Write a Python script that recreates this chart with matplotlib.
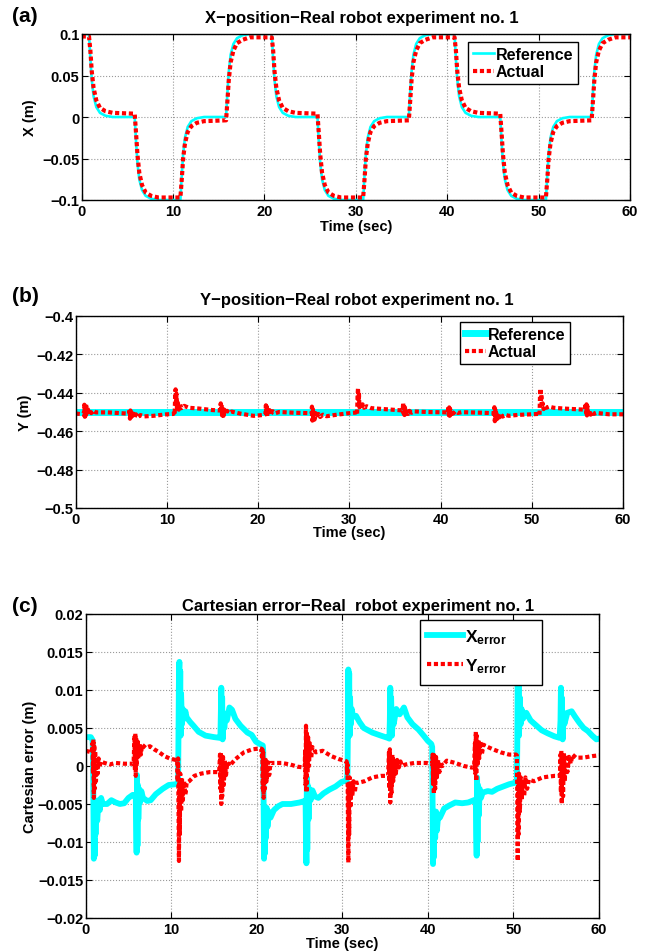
import matplotlib
matplotlib.use("Agg")
import matplotlib.pyplot as plt
from matplotlib.patches import Rectangle

plt.rcParams["font.family"] = ["Liberation Sans", "DejaVu Sans"]
plt.rcParams["font.weight"] = "bold"
plt.rcParams["axes.labelweight"] = "bold"
plt.rcParams["mathtext.fontset"] = "custom"
plt.rcParams["mathtext.rm"] = "Liberation Sans:bold"
plt.rcParams["mathtext.bf"] = "Liberation Sans:bold"
plt.rcParams["mathtext.it"] = "Liberation Sans:bold"

W, H = 651, 953
CYAN = "#00ffff"
RED = "#ff0000"

# ---------------- shared axis data ----------------
x_ticks = [0, 10, 20, 30, 40, 50, 60]
x_tick_labels = ["0", "10", "20", "30", "40", "50", "60"]

# ---------------- (a) X position ----------------
a_yticks = [-0.1, -0.05, 0, 0.05, 0.1]
a_ylabels = ["\u22120.1", "\u22120.05", "0", "0.05", "0.1"]

time_a = [
    0.0,
    0.8, 0.95, 1.1, 1.3, 1.6, 2.0, 2.6, 3.4,
    5.8, 5.95, 6.1, 6.3, 6.6, 7.0, 7.6, 8.4,
    10.8, 10.95, 11.1, 11.3, 11.6, 12.0, 12.6, 13.4,
    15.8, 15.95, 16.1, 16.3, 16.6, 17.0, 17.6, 18.4,
    20.8, 20.95, 21.1, 21.3, 21.6, 22.0, 22.6, 23.4,
    25.8, 25.95, 26.1, 26.3, 26.6, 27.0, 27.6, 28.4,
    30.8, 30.95, 31.1, 31.3, 31.6, 32.0, 32.6, 33.4,
    35.8, 35.95, 36.1, 36.3, 36.6, 37.0, 37.6, 38.4,
    40.8, 40.95, 41.1, 41.3, 41.6, 42.0, 42.6, 43.4,
    45.8, 45.95, 46.1, 46.3, 46.6, 47.0, 47.6, 48.4,
    50.8, 50.95, 51.1, 51.3, 51.6, 52.0, 52.6, 53.4,
    55.8, 55.95, 56.1, 56.3, 56.6, 57.0, 57.6, 58.4,
    60.0,
]
x_reference = [
    0.1,
    0.1, 0.07, 0.045, 0.025, 0.012, 0.005, 0.0015, 0.0,
    0.0, -0.03, -0.055, -0.075, -0.088, -0.095, -0.0985, -0.1,
    -0.1, -0.07, -0.045, -0.025, -0.012, -0.005, -0.0015, 0.0,
    0.0, 0.03, 0.055, 0.075, 0.088, 0.095, 0.0985, 0.1,
    0.1, 0.07, 0.045, 0.025, 0.012, 0.005, 0.0015, 0.0,
    0.0, -0.03, -0.055, -0.075, -0.088, -0.095, -0.0985, -0.1,
    -0.1, -0.07, -0.045, -0.025, -0.012, -0.005, -0.0015, 0.0,
    0.0, 0.03, 0.055, 0.075, 0.088, 0.095, 0.0985, 0.1,
    0.1, 0.07, 0.045, 0.025, 0.012, 0.005, 0.0015, 0.0,
    0.0, -0.03, -0.055, -0.075, -0.088, -0.095, -0.0985, -0.1,
    -0.1, -0.07, -0.045, -0.025, -0.012, -0.005, -0.0015, 0.0,
    0.0, 0.03, 0.055, 0.075, 0.088, 0.095, 0.0985, 0.1,
    0.1,
]
x_actual = [
    0.097,
    0.097, 0.08, 0.055, 0.035, 0.02, 0.011, 0.007, 0.005,
    0.004, -0.02, -0.045, -0.067, -0.082, -0.091, -0.095, -0.097,
    -0.097, -0.075, -0.05, -0.032, -0.018, -0.011, -0.007, -0.005,
    -0.004, 0.02, 0.045, 0.066, 0.08, 0.089, 0.093, 0.096,
    0.096, 0.08, 0.055, 0.035, 0.02, 0.011, 0.007, 0.005,
    0.004, -0.02, -0.045, -0.067, -0.082, -0.091, -0.095, -0.097,
    -0.097, -0.075, -0.05, -0.032, -0.018, -0.011, -0.007, -0.005,
    -0.004, 0.02, 0.045, 0.066, 0.08, 0.089, 0.093, 0.096,
    0.096, 0.08, 0.055, 0.035, 0.02, 0.011, 0.007, 0.005,
    0.004, -0.02, -0.045, -0.067, -0.082, -0.091, -0.095, -0.097,
    -0.097, -0.075, -0.05, -0.032, -0.018, -0.011, -0.007, -0.005,
    -0.004, 0.02, 0.045, 0.066, 0.08, 0.089, 0.093, 0.096,
    0.096,
]

# ---------------- (b) Y position ----------------
b_yticks = [-0.5, -0.48, -0.46, -0.44, -0.42, -0.4]
b_ylabels = ["\u22120.5", "\u22120.48", "\u22120.46", "\u22120.44", "\u22120.42", "\u22120.4"]

time_b_ref = [0.0, 60.0]
y_reference = [-0.45, -0.45]

time_b = [
    0.0, 0.8,
    0.9, 0.95, 1.0, 1.05, 1.1, 1.15, 1.2, 1.3, 1.4, 1.5, 1.7, 1.9, 2.2,
    3.5, 5.6,
    5.85, 5.9, 5.95, 6.0, 6.05, 6.1, 6.2, 6.3, 6.45, 6.6, 6.8, 7.1, 7.5,
    8.5, 10.0, 10.7,
    10.8, 10.85, 10.9, 10.95, 11.0, 11.05, 11.1, 11.2, 11.3, 11.45, 11.6, 11.9, 12.4,
    13.5, 15.0, 15.7,
    15.85, 15.9, 15.95, 16.0, 16.05, 16.1, 16.2, 16.3, 16.45, 16.6, 16.8, 17.1,
    18.0, 19.5, 20.7,
    20.8, 20.85, 20.9, 20.95, 21.0, 21.05, 21.15, 21.25, 21.4, 21.6, 21.9, 22.3,
    24.0, 25.7,
    25.85, 25.9, 25.95, 26.0, 26.05, 26.1, 26.2, 26.3, 26.45, 26.6, 26.8, 27.1, 27.5,
    28.5, 30.0, 30.7,
    30.8, 30.85, 30.9, 30.95, 31.0, 31.05, 31.1, 31.2, 31.3, 31.45, 31.6, 31.9, 32.4,
    33.5, 35.0, 35.7,
    35.85, 35.9, 35.95, 36.0, 36.05, 36.1, 36.2, 36.3, 36.45, 36.6, 36.8, 37.1,
    38.5, 40.7,
    40.8, 40.85, 40.9, 40.95, 41.0, 41.05, 41.15, 41.25, 41.4, 41.6, 41.9, 42.3,
    44.0, 45.7,
    45.85, 45.9, 45.95, 46.0, 46.05, 46.1, 46.2, 46.3, 46.45, 46.6, 46.8, 47.1, 47.5,
    48.5, 50.0, 50.7,
    50.8, 50.85, 50.9, 50.95, 51.0, 51.05, 51.1, 51.2, 51.3, 51.45, 51.6, 51.9, 52.4,
    53.5, 55.0, 55.7,
    55.85, 55.9, 55.95, 56.0, 56.05, 56.1, 56.2, 56.3, 56.45, 56.6, 56.8, 57.1,
    58.5, 60.0,
]
y_actual = [
    -0.4508, -0.4512,
    -0.4505, -0.4462, -0.4525, -0.4472, -0.4518, -0.4458, -0.4508, -0.4478, -0.4512, -0.4485, -0.4506, -0.4493, -0.4502,
    -0.4502, -0.4508,
    -0.4510, -0.4485, -0.4535, -0.4492, -0.4540, -0.4502, -0.4532, -0.4508, -0.4528, -0.4512, -0.4526, -0.4516, -0.4523,
    -0.4520, -0.4512, -0.4510,
    -0.4505, -0.4515, -0.4420, -0.4382, -0.4448, -0.4405, -0.4478, -0.4452, -0.4488, -0.4462, -0.4480, -0.4468, -0.4478,
    -0.4482, -0.4490, -0.4492,
    -0.4490, -0.4455, -0.4505, -0.4462, -0.4518, -0.4472, -0.4520, -0.4488, -0.4512, -0.4494, -0.4505, -0.4498,
    -0.4508, -0.4520, -0.4515,
    -0.4512, -0.4465, -0.4518, -0.4472, -0.4522, -0.4482, -0.4515, -0.4490, -0.4510, -0.4496, -0.4506, -0.4500,
    -0.4504, -0.4506,
    -0.4510, -0.4472, -0.4545, -0.4485, -0.4552, -0.4502, -0.4538, -0.4506, -0.4530, -0.4510, -0.4526, -0.4514, -0.4522,
    -0.4515, -0.4506, -0.4503,
    -0.4500, -0.4512, -0.4415, -0.4375, -0.4445, -0.4400, -0.4475, -0.4450, -0.4485, -0.4460, -0.4478, -0.4470, -0.4480,
    -0.4484, -0.4490, -0.4492,
    -0.4492, -0.4452, -0.4508, -0.4460, -0.4516, -0.4470, -0.4518, -0.4486, -0.4510, -0.4494, -0.4504, -0.4497,
    -0.4500, -0.4502,
    -0.4504, -0.4470, -0.4516, -0.4476, -0.4520, -0.4485, -0.4512, -0.4492, -0.4508, -0.4497, -0.4505, -0.4501,
    -0.4503, -0.4506,
    -0.4510, -0.4475, -0.4548, -0.4488, -0.4552, -0.4505, -0.4536, -0.4508, -0.4528, -0.4512, -0.4524, -0.4515, -0.4520,
    -0.4515, -0.4512, -0.4510,
    -0.4508, -0.4515, -0.4420, -0.4378, -0.4448, -0.4408, -0.4476, -0.4455, -0.4485, -0.4465, -0.4478, -0.4472, -0.4478,
    -0.4482, -0.4486, -0.4488,
    -0.4488, -0.4455, -0.4505, -0.4460, -0.4518, -0.4470, -0.4520, -0.4490, -0.4514, -0.4500, -0.4510, -0.4505,
    -0.4512, -0.4512,
]

# ---------------- (c) Cartesian error ----------------
c_yticks = [-0.02, -0.015, -0.01, -0.005, 0, 0.005, 0.01, 0.015, 0.02]
c_ylabels = ["\u22120.02", "\u22120.015", "\u22120.01", "\u22120.005", "0",
             "0.005", "0.01", "0.015", "0.02"]

time_c_x = [
    0.0, 0.6, 0.8,
    0.85, 0.9, 0.95, 1.0, 1.05, 1.1, 1.15, 1.25, 1.35, 1.5, 1.65, 1.8, 2.0,
    2.5, 3.0, 3.5, 4.0, 4.5, 5.0, 5.5, 5.8,
    5.85, 5.9, 5.95, 6.0, 6.05, 6.1, 6.15, 6.25, 6.35, 6.5, 6.7,
    7.2, 7.6, 8.2, 9.0, 9.7, 10.5, 10.8,
    10.85, 10.9, 10.95, 11.0, 11.05, 11.1, 11.15, 11.25, 11.35, 11.5, 11.65, 11.8,
    12.2, 12.6, 13.2, 14.0, 15.0, 15.7,
    15.75, 15.8, 15.85, 15.9, 15.95, 16.0, 16.1, 16.2, 16.3,
    16.5, 16.8, 17.1, 17.5, 18.1, 18.9, 19.4, 19.9, 20.5, 20.7,
    20.75, 20.8, 20.85, 20.9, 20.95, 21.0, 21.05, 21.15, 21.25, 21.4, 21.6,
    22.0, 22.5, 23.0, 24.0, 25.0, 25.6,
    25.7, 25.75, 25.8, 25.85, 25.9, 25.95, 26.05, 26.15, 26.3, 26.5,
    26.8, 27.2, 27.8, 28.5, 29.2, 29.9, 30.5,
    30.6, 30.65, 30.7, 30.75, 30.8, 30.85, 30.9, 31.0, 31.1, 31.25,
    31.6, 32.0, 32.5, 33.5, 34.5, 35.3, 35.5,
    35.55, 35.6, 35.65, 35.7, 35.8, 35.9, 36.0,
    36.3, 36.7, 37.2, 37.6, 38.2, 38.9, 39.5, 40.0, 40.4,
    40.5, 40.55, 40.6, 40.65, 40.7, 40.75, 40.85, 40.95, 41.05, 41.2,
    41.4, 41.9, 42.5, 43.2, 44.0, 44.7, 45.4,
    45.6, 45.65, 45.7, 45.75, 45.8, 45.85, 45.95, 46.05, 46.2, 46.4,
    47.0, 47.5, 48.1, 48.8, 49.5, 50.2, 50.4,
    50.45, 50.5, 50.55, 50.6, 50.65, 50.75, 50.85, 50.95, 51.1,
    51.5, 52.0, 52.5, 53.3, 54.0, 54.8, 55.4,
    55.5, 55.55, 55.6, 55.65, 55.75, 55.85, 55.95,
    56.3, 56.8, 57.2, 57.7, 58.2, 58.7, 59.2, 59.7, 60.0,
]
x_error = [
    0.0038, 0.0038, 0.0034,
    0.0020, -0.0060, -0.0122, -0.0095, -0.0118, -0.0070, -0.0090, -0.0055, -0.0072, -0.0045, -0.0058, -0.0042, -0.0050,
    -0.0050, -0.0045, -0.0048, -0.0050, -0.0049, -0.0042, -0.0038, -0.0040,
    -0.0038, -0.0080, -0.0114, -0.0012, -0.0105, -0.0025, -0.0070, -0.0030, -0.0048, -0.0033, -0.0042,
    -0.0046, -0.0045, -0.0037, -0.0030, -0.0025, -0.0024, -0.0024,
    0.0040, 0.0120, 0.0137, 0.0060, 0.0125, 0.0040, 0.0095, 0.0055, 0.0075, 0.0062, 0.0072, 0.0064,
    0.0058, 0.0053, 0.0045, 0.0040, 0.0038, 0.0037,
    0.0040, 0.0075, 0.0103, 0.0040, 0.0090, 0.0035, 0.0070, 0.0050, 0.0062,
    0.0060, 0.0077, 0.0074, 0.0062, 0.0053, 0.0044, 0.0041, 0.0032, 0.0028, 0.0027,
    0.0020, -0.0060, -0.0122, -0.0080, -0.0115, -0.0060, -0.0095, -0.0055, -0.0080, -0.0060, -0.0068,
    -0.0058, -0.0053, -0.0050, -0.0050, -0.0048, -0.0046,
    -0.0045, -0.0095, -0.0128, -0.0015, -0.0110, -0.0025, -0.0070, -0.0030, -0.0045, -0.0032,
    -0.0040, -0.0042, -0.0036, -0.0031, -0.0027, -0.0021, -0.0019,
    -0.0010, 0.0050, 0.0127, 0.0070, 0.0122, 0.0040, 0.0090, 0.0055, 0.0075, 0.0065,
    0.0066, 0.0058, 0.0050, 0.0044, 0.0040, 0.0037, 0.0036,
    0.0060, 0.0103, 0.0045, 0.0090, 0.0040, 0.0070, 0.0055,
    0.0075, 0.0068, 0.0077, 0.0064, 0.0055, 0.0048, 0.0040, 0.0033, 0.0029,
    0.0025, -0.0050, -0.0129, -0.0080, -0.0120, -0.0060, -0.0095, -0.0060, -0.0085, -0.0065,
    -0.0068, -0.0056, -0.0052, -0.0048, -0.0049, -0.0048, -0.0045,
    -0.0044, -0.0090, -0.0118, -0.0015, -0.0100, -0.0025, -0.0065, -0.0030, -0.0042, -0.0035,
    -0.0033, -0.0034, -0.0030, -0.0027, -0.0024, -0.0022, -0.0021,
    0.0030, 0.0125, 0.0065, 0.0118, 0.0040, 0.0090, 0.0055, 0.0075, 0.0062,
    0.0070, 0.0060, 0.0055, 0.0047, 0.0043, 0.0039, 0.0037,
    0.0060, 0.0103, 0.0040, 0.0090, 0.0035, 0.0070, 0.0055,
    0.0070, 0.0072, 0.0065, 0.0057, 0.0050, 0.0046, 0.0040, 0.0035, 0.0036,
]

time_c_y = [
    0.0, 0.7,
    0.8, 0.85, 0.9, 0.95, 1.0, 1.05, 1.1, 1.2, 1.3, 1.4, 1.5, 1.6, 1.75,
    2.2, 2.8, 3.5, 4.5, 5.4,
    5.6, 5.7, 5.75, 5.8, 5.85, 5.9, 5.95, 6.05, 6.15, 6.3, 6.45, 6.6,
    7.0, 7.5, 8.0, 8.6, 9.2, 9.8, 10.5,
    10.7, 10.75, 10.8, 10.85, 10.9, 10.95, 11.0, 11.05, 11.15, 11.25, 11.35, 11.5, 11.65, 11.8,
    12.1, 12.7, 13.5, 14.5, 15.4,
    15.6, 15.7, 15.75, 15.8, 15.85, 15.9, 15.95, 16.05, 16.15, 16.25, 16.4, 16.55,
    16.8, 17.5, 18.5, 19.5, 20.3,
    20.5, 20.6, 20.65, 20.7, 20.75, 20.8, 20.85, 20.95, 21.05, 21.15, 21.3, 21.45, 21.6,
    21.9, 22.9, 23.9, 24.8, 25.5,
    25.6, 25.65, 25.7, 25.75, 25.8, 25.85, 25.9, 26.0, 26.1, 26.2, 26.35, 26.5,
    26.9, 27.7, 28.7, 29.6, 30.3,
    30.5, 30.55, 30.6, 30.65, 30.7, 30.75, 30.8, 30.85, 30.95, 31.05, 31.15, 31.3, 31.45, 31.6,
    31.9, 32.6, 33.5, 34.5, 35.2,
    35.35, 35.45, 35.5, 35.55, 35.6, 35.65, 35.75, 35.85, 35.95, 36.1, 36.25, 36.4, 36.6, 36.8, 37.0,
    37.4, 38.4, 39.8, 40.4,
    40.5, 40.55, 40.6, 40.65, 40.7, 40.75, 40.85, 40.95, 41.05, 41.2, 41.35, 41.5, 41.7,
    42.2, 43.2, 44.2, 45.1,
    45.4, 45.5, 45.55, 45.6, 45.65, 45.7, 45.8, 45.9, 46.0, 46.15, 46.3, 46.5,
    46.8, 47.6, 48.5, 49.5, 50.3,
    50.4, 50.45, 50.5, 50.55, 50.6, 50.65, 50.75, 50.85, 50.95, 51.1, 51.25, 51.4, 51.6, 51.8,
    52.4, 53.4, 54.8, 55.4,
    55.45, 55.5, 55.55, 55.6, 55.65, 55.7, 55.8, 55.9, 56.0, 56.15, 56.3, 56.5, 56.7, 56.9,
    57.3, 58.2, 59.2, 60.0,
]
y_error = [
    0.0020, 0.0018,
    0.0030, -0.0010, 0.0035, -0.0042, 0.0028, -0.0030, 0.0020, -0.0020, 0.0012, -0.0010, 0.0010, -0.0002, 0.0006,
    0.0004, 0.0002, 0.0004, 0.0003, 0.0003,
    0.0003, 0.0040, -0.0005, 0.0043, -0.0013, 0.0038, 0.0000, 0.0035, 0.0010, 0.0030, 0.0015, 0.0028,
    0.0024, 0.0026, 0.0022, 0.0018, 0.0013, 0.0010, 0.0008,
    0.0008, -0.0020, 0.0010, -0.0060, -0.0125, -0.0020, -0.0090, -0.0010, -0.0060, -0.0015, -0.0045, -0.0020, -0.0038, -0.0022,
    -0.0020, -0.0013, -0.0010, -0.0008, -0.0008,
    -0.0008, 0.0015, -0.0030, 0.0018, -0.0050, 0.0010, -0.0040, 0.0012, -0.0025, 0.0008, -0.0012, 0.0005,
    0.0000, 0.0009, 0.0018, 0.0022, 0.0023,
    0.0023, 0.0012, 0.0022, -0.0030, 0.0018, -0.0042, 0.0010, -0.0030, 0.0008, -0.0020, 0.0005, -0.0012, 0.0004,
    0.0004, 0.0004, 0.0002, -0.0001, -0.0002,
    -0.0002, 0.0020, -0.0025, 0.0053, -0.0035, 0.0045, -0.0010, 0.0038, 0.0000, 0.0030, 0.0010, 0.0025,
    0.0018, 0.0020, 0.0013, 0.0009, 0.0007,
    0.0006, -0.0010, 0.0002, -0.0070, -0.0127, -0.0025, -0.0090, -0.0015, -0.0055, -0.0020, -0.0040, -0.0020, -0.0035, -0.0022,
    -0.0022, -0.0020, -0.0015, -0.0013, -0.0013,
    -0.0013, 0.0018, -0.0030, 0.0022, -0.0048, 0.0012, -0.0035, 0.0015, -0.0020, 0.0010, -0.0010, 0.0008, -0.0002, 0.0006, 0.0000,
    0.0002, 0.0004, 0.0004, 0.0003,
    0.0003, 0.0015, -0.0025, 0.0018, -0.0037, 0.0010, -0.0030, 0.0012, -0.0015, 0.0008, -0.0008, 0.0005, 0.0000,
    0.0007, 0.0004, 0.0000, -0.0002,
    -0.0002, 0.0030, -0.0010, 0.0045, -0.0020, 0.0040, 0.0000, 0.0035, 0.0010, 0.0032, 0.0015, 0.0028,
    0.0026, 0.0022, 0.0018, 0.0015, 0.0015,
    0.0014, -0.0040, -0.0125, -0.0020, -0.0090, -0.0010, -0.0060, -0.0015, -0.0045, -0.0020, -0.0040, -0.0015, -0.0030, -0.0018,
    -0.0020, -0.0015, -0.0013, -0.0013,
    -0.0010, 0.0015, -0.0035, 0.0020, -0.0050, 0.0012, -0.0040, 0.0018, -0.0020, 0.0015, -0.0008, 0.0012, 0.0003, 0.0015,
    0.0011, 0.0011, 0.0013, 0.0014,
]

DOTS = (0, (1.0, 0.65))


def add_axes_px(fig, left, top, right, bottom):
    return fig.add_axes([left / W, 1 - bottom / H, (right - left) / W, (bottom - top) / H])


def fig_xy(x, y):
    return x / W, 1 - y / H


def style_axes(ax, box, ylim, yticks, ylabels, ylabel, xlabel_y, ylabel_x):
    left, top, right, bottom = box
    ax.set_xlim(0, 60)
    ax.set_ylim(*ylim)
    ax.set_xticks(x_ticks)
    ax.set_xticklabels(x_tick_labels)
    ax.set_yticks(yticks)
    ax.set_yticklabels(ylabels)
    ax.tick_params(direction="in", top=True, right=True, length=4, width=0.8, labelsize=10.5)
    ax.tick_params(axis="x", pad=3)
    ax.tick_params(axis="y", pad=1.7)
    ax.grid(True, linestyle=":", color="#999999", linewidth=0.8)
    for sp in ax.spines.values():
        sp.set_linewidth(1.0)
    ax.set_xlabel("Time (sec)", fontsize=10.5, va="center")
    ax.set_ylabel(ylabel, fontsize=10.5, va="center", ha="center")
    ax.xaxis.set_label_coords(0.5, (bottom - xlabel_y) / (bottom - top))
    ax.yaxis.set_label_coords((ylabel_x - left) / (right - left), 0.5)


def legend_box(ax, anchor, fontsize, handlelength, labelspacing, borderpad=0.3):
    leg = ax.legend(loc="upper right", bbox_to_anchor=anchor, borderaxespad=0,
                    fancybox=False, framealpha=1, edgecolor="black",
                    prop={"size": fontsize, "weight": "bold"},
                    handlelength=handlelength, handletextpad=0.1,
                    labelspacing=labelspacing, borderpad=borderpad)
    leg.get_frame().set_linewidth(1.0)
    return leg


fig = plt.figure(figsize=(W / 100, H / 100), dpi=100)

# ---- (a)
box_a = (81.7, 35, 630, 201)
ax_a = add_axes_px(fig, *box_a)
ax_a.plot(time_a, x_reference, color=CYAN, linewidth=1.9, label="Reference")
ax_a.plot(time_a, x_actual, color=RED, linewidth=3, linestyle=DOTS, label="Actual")
style_axes(ax_a, box_a, (-0.1, 0.1), a_yticks, a_ylabels, "X (m)", 227, 29.6)
legend_box(ax_a, (0.905, 0.952), 11.5, 1.3, 0.15)

# ---- (b)
box_b = (75.7, 317, 623, 509)
ax_b = add_axes_px(fig, *box_b)
ax_b.plot(time_b_ref, y_reference, color=CYAN, linewidth=5, label="Reference")
ax_b.plot(time_b, y_actual, color=RED, linewidth=3, linestyle=DOTS, label="Actual")
style_axes(ax_b, box_b, (-0.5, -0.4), b_yticks, b_ylabels, "Y (m)", 533, 25)
legend_box(ax_b, (0.903, 0.969), 11.5, 1.3, 0.15)

# ---- (c)
box_c = (85.7, 615, 599, 919)
ax_c = add_axes_px(fig, *box_c)
ax_c.plot(time_c_x, x_error, color=CYAN, linewidth=4.2, label=r"$\mathbf{X_{error}}$")
ax_c.plot(time_c_y, y_error, color=RED, linewidth=3, linestyle=DOTS, label=r"$\mathbf{Y_{error}}$")
style_axes(ax_c, box_c, (-0.02, 0.02), c_yticks, c_ylabels, "Cartesian error (m)", 944, 29.6)

# MATLAB-style legend box for (c): frame drawn separately, wider than its text
leg_l, leg_t, leg_r, leg_b = 420, 621, 542, 686
fx0 = (leg_l - box_c[0]) / (box_c[2] - box_c[0])
fx1 = (leg_r - box_c[0]) / (box_c[2] - box_c[0])
fy0 = (box_c[3] - leg_b) / (box_c[3] - box_c[1])
fy1 = (box_c[3] - leg_t) / (box_c[3] - box_c[1])
ax_c.add_patch(Rectangle((fx0, fy0), fx1 - fx0, fy1 - fy0, transform=ax_c.transAxes,
                         facecolor="white", edgecolor="black", linewidth=1.0, zorder=4, clip_on=False))
leg_c = ax_c.legend(loc="upper left", bbox_to_anchor=(fx0, fy1), borderaxespad=0,
                    frameon=False, prop={"size": 12.5, "weight": "bold"},
                    handlelength=2.1, handletextpad=0.1, labelspacing=0.6, borderpad=0.4)
leg_c.set_zorder(5)

# titles and panel letters
titles = [
    ("X\u2212position\u2212Real robot experiment no. 1", 362, 23, "(a)", 22),
    ("Y\u2212position\u2212Real robot experiment no. 1", 357, 305, "(b)", 302),
    ("Cartesian error\u2212Real  robot experiment no. 1", 358, 611, "(c)", 612),
]
for text, cx, base, letter, lbase in titles:
    fig.text(*fig_xy(cx, base), text, ha="center", va="baseline", fontsize=12, fontweight="bold")
    fig.text(*fig_xy(12, lbase), letter, ha="left", va="baseline", fontsize=15, fontweight="bold")

fig.savefig("out.png", dpi=100)
